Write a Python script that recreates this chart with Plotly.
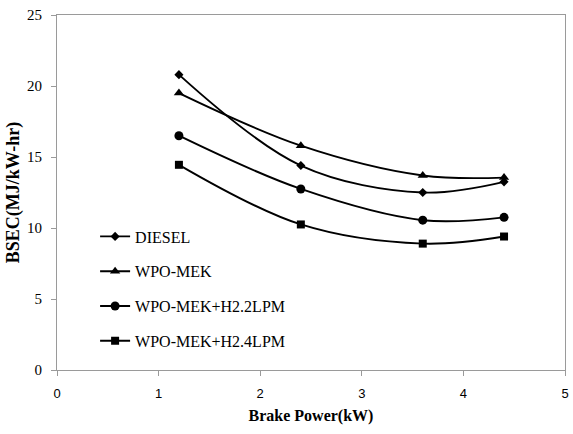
import plotly.graph_objects as go

brake_power = [1.2, 2.4, 3.6, 4.4]
diesel = [20.8, 14.4, 12.5, 13.25]
wpo_mek = [19.5, 15.8, 13.7, 13.55]
wpo_mek_h2_2 = [16.5, 12.75, 10.55, 10.75]
wpo_mek_h2_4 = [14.45, 10.25, 8.9, 9.4]

series = [
    ("DIESEL", diesel, "diamond", 7),
    ("WPO-MEK", wpo_mek, "triangle-up", 9),
    ("WPO-MEK+H2.2LPM", wpo_mek_h2_2, "circle", 9),
    ("WPO-MEK+H2.4LPM", wpo_mek_h2_4, "square", 8),
]

fig = go.Figure()
for i, (name, vals, sym, sz) in enumerate(series):
    fig.add_trace(go.Scatter(
        x=brake_power, y=vals, name=name, mode="lines+markers",
        line=dict(color="black", width=1.9, shape="spline", smoothing=1),
        marker=dict(symbol=sym, size=sz, color="black"),
        legendgroup=f"g{i}",
    ))

axis_common = dict(
    showgrid=False, zeroline=False, showline=True, linecolor="#9a9a9a",
    linewidth=1.2, mirror=True, ticks="outside", ticklen=5, tickcolor="#9a9a9a",
)

fig.update_layout(
    width=573, height=434,
    margin=dict(l=57, r=4, t=15, b=64),
    paper_bgcolor="white", plot_bgcolor="white",
    showlegend=True,
    legend=dict(
        x=0.075, y=0.424, xanchor="left", yanchor="top",
        font=dict(family="Liberation Serif", size=16, color="black"),
        bgcolor="rgba(0,0,0,0)", traceorder="grouped", tracegroupgap=11,
        itemwidth=30,
    ),
    xaxis=dict(
        range=[0, 5], dtick=1, tick0=0, **axis_common,
        tickfont=dict(family="Liberation Sans", size=13, color="black"),
        ticklabelstandoff=6,
        title=dict(text="<b>Brake Power(kW)</b>",
                   font=dict(family="Liberation Serif", size=16, color="black"),
                   standoff=10),
    ),
    yaxis=dict(
        range=[0, 25], dtick=5, tick0=0, **axis_common,
        tickfont=dict(family="Liberation Serif", size=15, color="black"),
        ticklabelstandoff=6,
        title=dict(text="<b>BSEC(MJ/kW-hr)</b>",
                   font=dict(family="Liberation Serif", size=18, color="black"),
                   standoff=2),
    ),
)

fig.write_html("out.html")
